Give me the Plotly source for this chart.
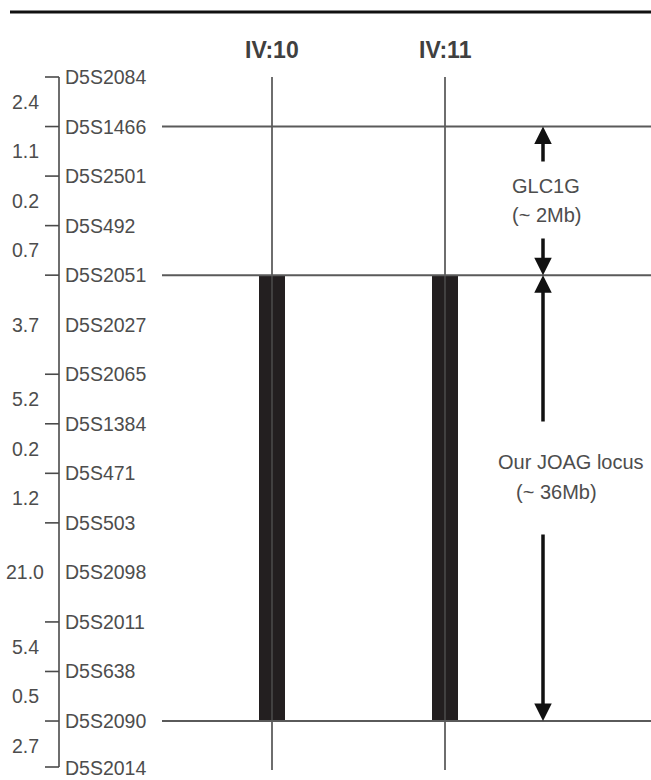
import plotly.graph_objects as go

# ---------------- data ----------------
markers = ["D5S2084", "D5S1466", "D5S2501", "D5S492", "D5S2051", "D5S2027",
           "D5S2065", "D5S1384", "D5S471", "D5S503", "D5S2098", "D5S2011",
           "D5S638", "D5S2090", "D5S2014"]
untick_markers = ["D5S2027", "D5S2098"]
distances_cM = ["2.4", "1.1", "0.2", "0.7", "3.7", "5.2", "0.2", "1.2",
                "21.0", "5.4", "0.5", "2.7"]
individuals = ["IV:10", "IV:11"]
hap_start = ["D5S2051", "D5S2051"]
hap_end = ["D5S2090", "D5S2090"]
boundary_markers = ["D5S1466", "D5S2051", "D5S2090"]
regions = [("D5S1466", "D5S2051", "GLC1G", "(~ 2Mb)"),
           ("D5S2051", "D5S2090", "Our JOAG locus", "(~ 36Mb)")]

# ---------------- layout helpers ----------------
W, H = 651, 780
Y0, STEP = 77.0, 49.54          # pixel of first marker, pixel per marker


def px2idx(p):
    return (p - Y0) / STEP


idx = {m: i for i, m in enumerate(markers)}
ticked = [m for m in markers if m not in untick_markers]

TXT = "#4d4d4d"
LINE = "#4a4a4a"
FONT = "Liberation Sans, Arial, sans-serif"
AXIS_X = 59
IND_X = [272, 445]
ARROW_X = 543
AX_END = px2idx(767)
LABEL_MAX = px2idx(768)

fig = go.Figure()

# haplotype bars
fig.add_trace(go.Bar(
    x=IND_X,
    base=[idx[s] for s in hap_start],
    y=[idx[e] - idx[s] for s, e in zip(hap_start, hap_end)],
    width=26, marker=dict(color="#231f20", line=dict(width=0)),
    hoverinfo="skip", showlegend=False))

shapes = []
annotations = []

# top border line
shapes.append(dict(type="line", xref="x", yref="y", x0=10, x1=W,
                   y0=px2idx(12), y1=px2idx(12),
                   line=dict(color="#111111", width=3)))

# marker axis
shapes.append(dict(type="line", xref="x", yref="y", x0=AXIS_X, x1=AXIS_X,
                   y0=0, y1=AX_END, line=dict(color=LINE, width=1.6)))
for m in ticked:
    yy = min(idx[m], AX_END)
    shapes.append(dict(type="line", xref="x", yref="y", x0=45, x1=AXIS_X,
                       y0=yy, y1=yy, line=dict(color=LINE, width=1.6)))
for m in markers:
    annotations.append(dict(x=63, y=min(idx[m], LABEL_MAX), xref="x", yref="y",
                            text=m, showarrow=False, xanchor="left",
                            yanchor="middle",
                            font=dict(family=FONT, size=19.5, color=TXT)))

# distances between ticked markers
for k, d in enumerate(distances_cM):
    ymid = (idx[ticked[k]] + idx[ticked[k + 1]]) / 2
    annotations.append(dict(x=25, y=ymid, xref="x", yref="y", text=d,
                            showarrow=False, xanchor="center", yanchor="middle",
                            font=dict(family=FONT, size=19.5, color=TXT)))

# individuals
for xi, name in zip(IND_X, individuals):
    shapes.append(dict(type="line", xref="x", yref="y", x0=xi, x1=xi,
                       y0=0, y1=px2idx(770), line=dict(color=LINE, width=1.6)))
    annotations.append(dict(x=xi, y=px2idx(50), xref="x", yref="y",
                            text="<b>" + name + "</b>", showarrow=False,
                            xanchor="center", yanchor="middle",
                            font=dict(family=FONT, size=23, color="#404040")))

# boundary lines
for m in boundary_markers:
    shapes.append(dict(type="line", xref="x", yref="y", x0=162, x1=W,
                       y0=idx[m], y1=idx[m], line=dict(color="#5a5a5a", width=2)))


def arrow(tip, tail):
    annotations.append(dict(x=ARROW_X, y=tip, ax=ARROW_X, ay=tail,
                            xref="x", yref="y", axref="x", ayref="y",
                            text="", showarrow=True, arrowhead=2,
                            arrowsize=1.0, arrowwidth=3.5, arrowcolor="#111111",
                            standoff=0, startstandoff=0))


# region arrows + labels
(g_top, g_bot, g_name, g_size), (j_top, j_bot, j_name, j_size) = regions
arrow(idx[g_top], px2idx(163))
arrow(idx[g_bot], px2idx(237))
arrow(idx[j_top], px2idx(423))
arrow(idx[j_bot], px2idx(533))

annotations.append(dict(x=546, y=px2idx(186), xref="x", yref="y", text=g_name,
                        showarrow=False, xanchor="center", yanchor="middle",
                        font=dict(family=FONT, size=20, color=TXT)))
annotations.append(dict(x=546, y=px2idx(215), xref="x", yref="y", text=g_size,
                        showarrow=False, xanchor="center", yanchor="middle",
                        font=dict(family=FONT, size=20, color=TXT)))
annotations.append(dict(x=571, y=px2idx(462), xref="x", yref="y", text=j_name,
                        showarrow=False, xanchor="center", yanchor="middle",
                        font=dict(family=FONT, size=20, color=TXT)))
annotations.append(dict(x=556, y=px2idx(492), xref="x", yref="y", text=j_size,
                        showarrow=False, xanchor="center", yanchor="middle",
                        font=dict(family=FONT, size=20, color=TXT)))

fig.update_layout(
    width=W, height=H,
    margin=dict(l=0, r=0, t=0, b=0, pad=0),
    paper_bgcolor="white", plot_bgcolor="white",
    showlegend=False,
    xaxis=dict(range=[0, W], visible=False, fixedrange=True),
    yaxis=dict(range=[px2idx(H), px2idx(0)], visible=False, fixedrange=True),
    shapes=shapes, annotations=annotations,
)

fig.write_html(
    "out.html",
    config={"displayModeBar": False},
    post_script="document.body.style.margin='0';"
                "document.body.style.overflow='hidden';",
)
